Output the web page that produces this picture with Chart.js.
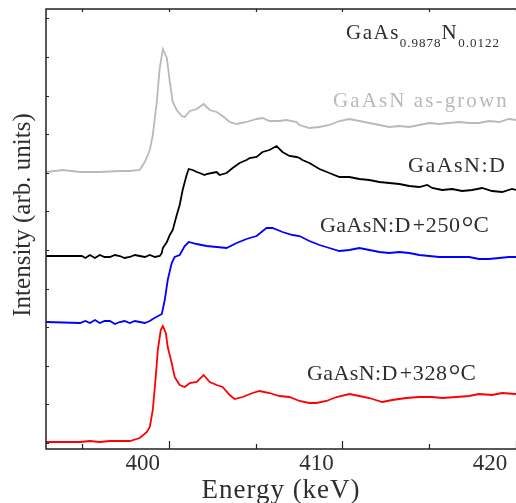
<!DOCTYPE html>
<html><head><meta charset="utf-8">
<script src="https://cdn.jsdelivr.net/npm/chart.js@4/dist/chart.umd.min.js"></script>
<style>html,body{margin:0;padding:0;background:#fff;overflow:hidden}#wrap{width:516px;height:503px;position:relative}</style>
</head><body><div id="wrap"><canvas id="c"></canvas></div>
<script>
// Energy axis (keV) and intensities (arb. units, spectra stacked with offsets)
const xTickLabels = ['400', '410', '420'];
const xMinorStep = 5;

const grownE = [392.93,393.91,394.89,396.03,397.18,397.76,398.33,398.62,398.91,399.08,399.31,399.48,399.66,399.89,400.06,400.23,400.46,400.75,400.92,401.21,401.61,402.01,402.36,402.76,403.10,403.51,403.91,404.48,405.06,405.40,405.80,406.38,406.78,407.36,407.53,408.10,408.68,409.25,409.83,410.40,410.98,411.55,412.13,412.70,413.28,413.85,414.43,415.00,415.57,416.15,416.72,417.30,417.87,418.45,419.02,419.60,420.00];
const grownI = [271,273,271,271,272,272,273,281,293,308,341,375,394,385,361,341,333,327,326,332,334,339,333,331,327,321,319,321,324,325,322,322,323,321,318,315,316,318,322,324,322,320,318,316,317,316,318,320,319,320,321,320,320,322,321,324,323];

const dE = [392.93,395.00,395.20,395.46,395.75,396.03,396.30,396.61,396.90,397.18,397.45,397.76,398.05,398.33,398.62,398.91,399.20,399.48,399.60,399.66,399.89,400.06,400.23,400.46,400.63,400.80,401.03,401.15,401.38,401.61,401.78,402.07,402.18,402.47,402.76,402.93,403.33,403.68,404.08,404.48,404.66,405.06,405.40,405.80,406.21,406.55,406.95,407.36,407.53,407.70,408.10,408.68,409.25,409.83,410.40,410.98,411.55,412.13,412.70,413.28,413.85,414.43,414.89,415.17,415.75,416.32,416.90,417.47,418.05,418.62,419.20,419.77,420.00];
const dI = [187,187,185,188,185,188,186,186,188,187,185,186,188,187,186,188,186,187,190,195,201,208,213,228,238,253,268,274,273,271,270,268,269,270,271,268,270,275,280,283,285,286,291,293,297,291,287,286,285,283,280,274,270,266,266,264,263,261,260,259,257,256,258,255,253,254,252,253,255,252,251,254,253];

const d250E = [392.93,394.89,395.20,395.46,395.75,396.03,396.30,396.61,396.90,397.18,397.45,397.76,398.05,398.33,398.62,398.91,399.08,399.60,399.77,399.94,400.17,400.34,400.63,400.92,401.15,401.61,402.18,402.76,403.33,403.91,404.48,405.06,405.63,405.98,406.55,407.13,407.53,408.10,408.68,409.25,409.83,410.40,410.98,411.55,412.13,412.70,413.28,413.85,414.43,415.00,415.57,416.15,416.72,417.30,417.87,418.45,419.02,419.60,420.00];
const d250I = [121,120,122,120,123,120,122,122,119,121,122,120,122,121,120,122,124,129,143,163,180,186,188,197,201,199,197,196,195,200,204,207,215,215,211,208,207,202,198,195,192,193,195,193,191,190,191,190,188,187,186,186,186,186,184,184,185,186,186];

const d328E = [392.93,394.89,395.46,396.03,396.61,397.18,397.76,398.33,398.74,398.91,399.08,399.25,399.37,399.54,399.66,399.83,399.94,400.17,400.34,400.63,400.92,401.21,401.61,402.01,402.36,402.76,403.10,403.51,403.79,404.25,404.83,405.23,405.80,406.38,406.95,407.53,408.10,408.51,409.08,409.66,410.40,410.98,411.55,412.30,412.87,413.68,414.43,415.17,415.75,416.55,417.30,417.87,418.62,419.20,420.00];
const d328I = [1,1,2,1,2,2,2,5,11,16,33,66,93,113,117,110,96,80,66,58,56,60,61,68,61,58,56,48,44,46,50,52,50,47,46,42,40,40,42,46,49,47,45,41,43,45,46,46,45,46,47,49,48,50,49];

const seriesNames = ['GaAsN as-grown', 'GaAsN:D', 'GaAsN:D+250 °C', 'GaAsN:D+328 °C'];
const seriesColors = ['#b9b9b9', '#000000', '#0000ff', '#ff0000'];
const yTickStep = 38.6;

function pts(E, I) { return E.map((e, i) => ({ x: e, y: I[i] })); }

const SERIF = '"Liberation Serif", "DejaVu Serif", serif';
const TXT = '#2e2e2e';

function drawRuns(ctx, x, y, runs, color) {
  let cx = x;
  for (const r of runs) {
    ctx.font = (r.size) + 'px ' + SERIF;
    ctx.letterSpacing = (r.ls || 0) + 'px';
    ctx.fillStyle = color;
    ctx.textAlign = 'left';
    ctx.textBaseline = 'alphabetic';
    ctx.fillText(r.t, cx + (r.dx || 0), y + (r.dy || 0));
    cx += ctx.measureText(r.t).width + (r.dx || 0) + (r.after || 0);
  }
  ctx.letterSpacing = '0px';
}

const decor = {
  id: 'decor',
  afterDatasetsDraw(chart) {
    const ctx = chart.ctx, a = chart.chartArea;
    const xs = chart.scales.x, ys = chart.scales.y;
    ctx.save();
    ctx.strokeStyle = '#222';
    ctx.lineWidth = 1.5;
    ctx.beginPath();
    ctx.moveTo(a.right + 2, a.top); ctx.lineTo(a.left, a.top); ctx.lineTo(a.left, a.bottom); ctx.lineTo(a.right + 2, a.bottom);
    ctx.stroke();
    ctx.lineWidth = 1.2;
    ctx.beginPath();
    for (const t of xs.ticks) {
      const px = Math.round(xs.getPixelForValue(t.value)) + 0.5;
      const major = xTickLabels.includes(String(t.value));
      ctx.moveTo(px, a.bottom); ctx.lineTo(px, a.bottom - (major ? 8 : 5));
      ctx.moveTo(px, a.top); ctx.lineTo(px, a.top + 3);
    }
    for (const t of ys.ticks) {
      const py = Math.round(ys.getPixelForValue(t.value)) + 0.5;
      ctx.moveTo(a.left, py); ctx.lineTo(a.left + 3, py);
    }
    ctx.stroke();

    // axis titles
    ctx.fillStyle = TXT;
    ctx.font = '27px ' + SERIF;
    ctx.letterSpacing = '1px';
    ctx.textAlign = 'center';
    ctx.textBaseline = 'alphabetic';
    ctx.fillText('Energy (keV)', 281, 498);
    ctx.save();
    ctx.translate(30, 215);
    ctx.rotate(-Math.PI / 2);
    ctx.letterSpacing = '0px';
    ctx.font = '25px ' + SERIF;
    ctx.fillText('Intensity (arb. units)', 0, 0);
    ctx.restore();

    // annotations
    drawRuns(ctx, 346, 39, [
      { t: 'GaAs', size: 21, ls: 1.5 }, { t: '0.9878', size: 13, ls: 1, dy: 8 },
      { t: 'N', size: 21, ls: 1.5 }, { t: '0.0122', size: 13, ls: 1, dy: 8 }
    ], TXT);
    drawRuns(ctx, 333, 107, [{ t: 'GaAsN as-grown', size: 21, ls: 2.1 }], seriesColors[0]);
    drawRuns(ctx, 408, 172, [{ t: 'GaAsN:D', size: 22, ls: 1.5 }], TXT);
    drawRuns(ctx, 320, 232, [
      { t: 'GaAsN:D', size: 22, ls: 0.4 }, { t: '+250', size: 22, ls: 0.6, dx: 2 },
      { t: '°', size: 30, ls: 0, dx: 1, dy: 5 }, { t: 'C', size: 23, ls: 0, dx: 0 }
    ], TXT);
    drawRuns(ctx, 307, 380, [
      { t: 'GaAsN:D', size: 22, ls: 0.4 }, { t: '+328', size: 22, ls: 0.6, dx: 2 },
      { t: '°', size: 30, ls: 0, dx: 1, dy: 5 }, { t: 'C', size: 23, ls: 0, dx: 0 }
    ], TXT);
    ctx.restore();
  }
};

const datasets = [
  [grownE, grownI], [dE, dI], [d250E, d250I], [d328E, d328I]
].map((s, i) => ({
  label: seriesNames[i],
  data: pts(s[0], s[1]),
  borderColor: seriesColors[i],
  borderWidth: 1.8,
  pointRadius: 0,
  tension: 0,
  fill: false
}));

new Chart(document.getElementById('c'), {
  type: 'line',
  data: { datasets },
  options: {
    responsive: true,
    maintainAspectRatio: false,
    animation: false,
    devicePixelRatio: 1,
    layout: { padding: { left: 46, top: 9, right: 0, bottom: 0 } },
    plugins: { legend: { display: false }, tooltip: { enabled: false } },
    scales: {
      x: {
        type: 'linear',
        min: 392.93,
        max: 420,
        grid: { display: false },
        border: { display: false },
        ticks: {
          stepSize: xMinorStep,
          includeBounds: false,
          autoSkip: false,
          maxRotation: 0,
          padding: -3,
          labelOffset: -26,
          color: TXT,
          font: { family: SERIF, size: 23, lineHeight: 0.9 },
          callback: (v) => xTickLabels.includes(String(v)) ? String(v) : ''
        },
        afterFit: (s) => { s.height = 54; s.paddingLeft = 0; s.paddingRight = 0; }
      },
      y: {
        type: 'linear',
        min: -6,
        max: 434,
        grid: { display: false },
        border: { display: false },
        ticks: { display: false, stepSize: yTickStep, includeBounds: false },
        afterFit: (s) => { s.width = 0; }
      }
    }
  },
  plugins: [decor]
});
</script>
</body></html>
